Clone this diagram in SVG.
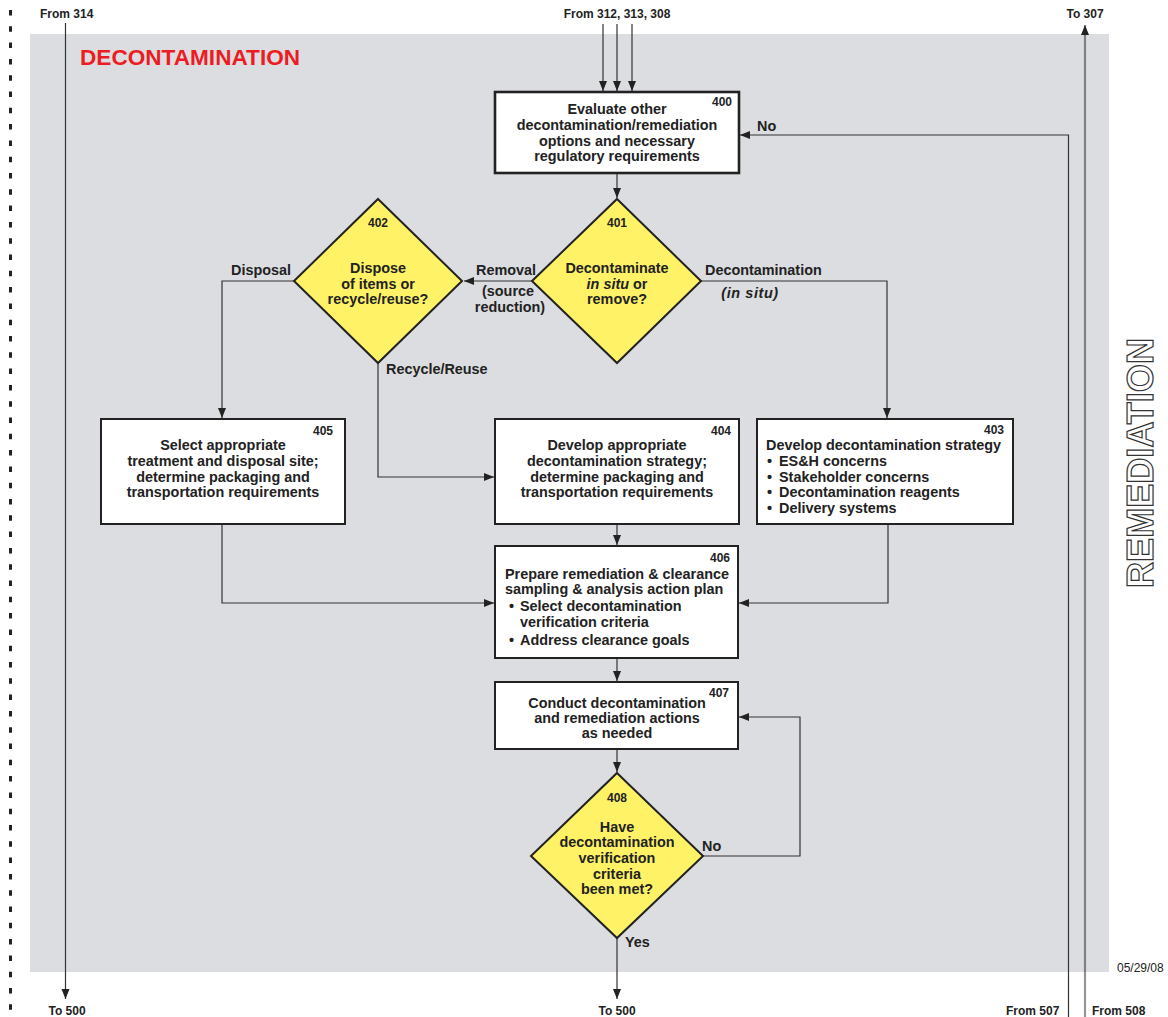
<svg xmlns="http://www.w3.org/2000/svg" width="1168" height="1017" viewBox="0 0 1168 1017">
  <defs>
    <marker id="arrow" viewBox="0 0 10 10" refX="10" refY="5" markerWidth="10" markerHeight="10" markerUnits="userSpaceOnUse" orient="auto">
      <path d="M0,1 L10,5 L0,9 Z" fill="#222"/>
    </marker>
  </defs>
  <style>
    text { font-family: "Liberation Sans", Arial, Helvetica, sans-serif; fill: #222; }
    .t { font-size: 14.4px; font-weight: bold; text-anchor: middle; }
    .tl { font-size: 14.4px; font-weight: bold; }
    .num { font-size: 12px; font-weight: bold; text-anchor: end; }
    .numc { font-size: 12px; font-weight: bold; text-anchor: middle; }
    .port { font-size: 12px; font-weight: bold; }
    .lbl { font-size: 14.4px; font-weight: bold; }
    .box { fill: #fff; stroke: #222; stroke-width: 2; }
    .dia { fill: #fff266; stroke: #222; stroke-width: 2; }
    .conn { fill: none; stroke: #333; stroke-width: 1.2; }
  </style>

  <!-- panel background and left boundary -->
  <rect x="30" y="34" width="1079" height="938" fill="#dcdde0"/>
  <line x1="10.5" y1="10" x2="10.5" y2="1017" stroke="#222" stroke-width="3" stroke-dasharray="5.5 10.8"/>

  <text x="80" y="65" style="font-size:22.6px;font-weight:bold;fill:#ec1c24">DECONTAMINATION</text>
  <text transform="translate(1153,463) rotate(-90)" text-anchor="middle" textLength="250" lengthAdjust="spacingAndGlyphs" style="font-size:37px;font-weight:bold;fill:#fff;stroke:#333;stroke-width:1.2">REMEDIATION</text>

  <!-- off-page ports -->
  <text class="port" x="40" y="18">From 314</text>
  <text class="port" x="617" y="18" text-anchor="middle">From 312, 313, 308</text>
  <text class="port" x="1085" y="18" text-anchor="middle">To 307</text>
  <text class="port" x="67" y="1015" text-anchor="middle">To 500</text>
  <text class="port" x="617" y="1015" text-anchor="middle">To 500</text>
  <text class="port" x="1006" y="1015">From 507</text>
  <text class="port" x="1092" y="1015">From 508</text>
  <text x="1117" y="972" style="font-size:12px">05/29/08</text>

  <!-- connectors -->
  <g id="connectors">
    <line class="conn" x1="65.5" y1="23" x2="65.5" y2="999" marker-end="url(#arrow)"/>
    <line class="conn" x1="603" y1="24" x2="603" y2="91" marker-end="url(#arrow)"/>
    <line class="conn" x1="617" y1="24" x2="617" y2="91" marker-end="url(#arrow)"/>
    <line class="conn" x1="632" y1="24" x2="632" y2="91" marker-end="url(#arrow)"/>
    <line x1="1085" y1="1017" x2="1085" y2="25" stroke="#000" stroke-opacity="0.42" stroke-width="2.2" marker-end="url(#arrow)"/>
    <polyline class="conn" points="1068.5,1017 1068.5,135 740,135" marker-end="url(#arrow)"/>
    <line class="conn" x1="617" y1="173" x2="617" y2="198" marker-end="url(#arrow)"/>
    <line class="conn" x1="532" y1="281" x2="464" y2="281" marker-end="url(#arrow)"/>
    <polyline class="conn" points="294,281 222,281 222,418" marker-end="url(#arrow)"/>
    <polyline class="conn" points="701,281 887,281 887,418" marker-end="url(#arrow)"/>
    <polyline class="conn" points="378,363 378,477 494,477" marker-end="url(#arrow)"/>
    <polyline class="conn" points="222,525 222,603 494,603" marker-end="url(#arrow)"/>
    <line class="conn" x1="617" y1="525" x2="617" y2="545" marker-end="url(#arrow)"/>
    <polyline class="conn" points="888,525 888,603 739,603" marker-end="url(#arrow)"/>
    <line class="conn" x1="617" y1="659" x2="617" y2="681" marker-end="url(#arrow)"/>
    <line class="conn" x1="617" y1="750" x2="617" y2="772" marker-end="url(#arrow)"/>
    <polyline class="conn" points="703,856 800,856 800,717 739,717" marker-end="url(#arrow)"/>
    <line class="conn" x1="617" y1="938" x2="617" y2="999" marker-end="url(#arrow)"/>
  </g>

  <!-- connector labels -->
  <text class="lbl" x="757" y="131">No</text>
  <text class="lbl" x="231" y="275">Disposal</text>
  <text class="lbl" x="476" y="275">Removal</text>
  <text class="t" x="508" y="296">(source</text>
  <text class="t" x="510" y="312">reduction)</text>
  <text class="lbl" x="705" y="275">Decontamination</text>
  <text class="t" x="750" y="298" font-style="italic" letter-spacing="0.6">(in situ)</text>
  <text class="lbl" x="386" y="374">Recycle/Reuse</text>
  <text class="lbl" x="702" y="851">No</text>
  <text class="lbl" x="625" y="947">Yes</text>

  <g id="n400">
    <rect class="box" x="495" y="92" width="244" height="81" style="stroke-width:2.6"/>
    <text class="num" x="732" y="106">400</text>
    <text class="t" x="617" y="114">Evaluate other</text>
    <text class="t" x="617" y="130">decontamination/remediation</text>
    <text class="t" x="617" y="146">options and necessary</text>
    <text class="t" x="617" y="161">regulatory requirements</text>
  </g>

  <g id="n401">
    <polygon class="dia" points="617,199 701,281 617,363 532,281"/>
    <text class="numc" x="617" y="227">401</text>
    <text class="t" x="617" y="273">Decontaminate</text>
    <text class="t" x="617" y="289"><tspan font-style="italic">in situ</tspan> or</text>
    <text class="t" x="617" y="304">remove?</text>
  </g>

  <g id="n402">
    <polygon class="dia" points="378,199 462,281 378,363 294,281"/>
    <text class="numc" x="378" y="227">402</text>
    <text class="t" x="378" y="273">Dispose</text>
    <text class="t" x="378" y="289">of items or</text>
    <text class="t" x="378" y="304">recycle/reuse?</text>
  </g>

  <g id="n405">
    <rect class="box" x="101" y="419" width="244" height="105"/>
    <text class="num" x="333" y="435">405</text>
    <text class="t" x="223" y="450">Select appropriate</text>
    <text class="t" x="223" y="466">treatment and disposal site;</text>
    <text class="t" x="223" y="482">determine packaging and</text>
    <text class="t" x="223" y="497">transportation requirements</text>
  </g>

  <g id="n404">
    <rect class="box" x="495" y="419" width="244" height="105"/>
    <text class="num" x="731" y="435">404</text>
    <text class="t" x="617" y="450">Develop appropriate</text>
    <text class="t" x="617" y="466">decontamination strategy;</text>
    <text class="t" x="617" y="482">determine packaging and</text>
    <text class="t" x="617" y="497">transportation requirements</text>
  </g>

  <g id="n403">
    <rect class="box" x="757" y="419" width="256" height="105"/>
    <text class="num" x="1004" y="434">403</text>
    <text class="tl" x="766" y="450">Develop decontamination strategy</text>
    <text class="tl" x="767" y="466">•</text><text class="tl" x="779" y="466">ES&amp;H concerns</text>
    <text class="tl" x="767" y="482">•</text><text class="tl" x="779" y="482">Stakeholder concerns</text>
    <text class="tl" x="767" y="497">•</text><text class="tl" x="779" y="497">Decontamination reagents</text>
    <text class="tl" x="767" y="513">•</text><text class="tl" x="779" y="513">Delivery systems</text>
  </g>

  <g id="n406">
    <rect class="box" x="495" y="546" width="243" height="112"/>
    <text class="num" x="730" y="562">406</text>
    <text class="tl" x="505" y="579">Prepare remediation &amp; clearance</text>
    <text class="tl" x="505" y="594">sampling &amp; analysis action plan</text>
    <text class="tl" x="509" y="611">•</text><text class="tl" x="520" y="611">Select decontamination</text>
    <text class="tl" x="520" y="627">verification criteria</text>
    <text class="tl" x="509" y="645">•</text><text class="tl" x="520" y="645">Address clearance goals</text>
  </g>

  <g id="n407">
    <rect class="box" x="495" y="682" width="243" height="67"/>
    <text class="num" x="729" y="697">407</text>
    <text class="t" x="617" y="708">Conduct decontamination</text>
    <text class="t" x="617" y="723">and remediation actions</text>
    <text class="t" x="617" y="738">as needed</text>
  </g>

  <g id="n408">
    <polygon class="dia" points="617,773 703,856 617,938 531,856"/>
    <text class="numc" x="617" y="802">408</text>
    <text class="t" x="617" y="832">Have</text>
    <text class="t" x="617" y="847">decontamination</text>
    <text class="t" x="617" y="863">verification</text>
    <text class="t" x="617" y="879">criteria</text>
    <text class="t" x="617" y="894">been met?</text>
  </g>
</svg>
